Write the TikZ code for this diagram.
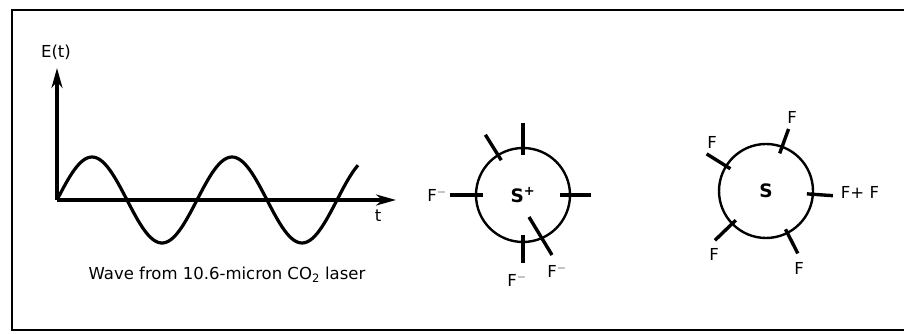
\documentclass[tikz,border=0pt]{standalone}
\usepackage{fontspec}
\setmainfont{DejaVu Sans}
\usetikzlibrary{arrows.meta,calc}

\begin{document}
\begin{tikzpicture}[x=1pt,y=1pt,
  ax/.style={line width=3.6pt},
  wave/.style={line width=3.2pt},
  ring/.style={draw,circle,line width=2.4pt,minimum size=94pt,inner sep=0pt,font=\fontsize{18.5}{21}\selectfont\bfseries},
  bond/.style={line width=3.4pt},
  lab/.style={font=\fontsize{16.5}{19}\selectfont,inner sep=1pt},
  >={Stealth[length=20pt,width=11pt]}]
\useasboundingbox (0,0) rectangle (904,334);
\draw[line width=2.8pt] (904,324) -- (12,324) -- (12,4) -- (904,4);
% field against time
\coordinate (orig) at (57,134);
\coordinate (ytop) at (57,266);
\coordinate (xend) at (396,134);
\draw[ax,->] (orig) -- (ytop);
\draw[ax,->] (orig) -- (xend);
\node[lab] (Et) at (56,282) {E(t)};
\node[lab] (tlab) at (378,118) {t};
\draw[wave] plot[domain=57:358,samples=120] (\x,{134+43*sin(2.5714*(\x-57))});
\node[lab] (cap) at (227,59) {Wave from 10.6-micron CO\textsubscript{2} laser};
% ion with its neighbours
\node[ring] (Sp) at (523,139) {S\textsuperscript{+}};
\draw[bond] ([shift={(180:40)}]Sp.center) -- ([shift={(180:73)}]Sp.center);
\draw[bond] ([shift={(122:41)}]Sp.center) -- ([shift={(122:71)}]Sp.center);
\draw[bond] ([shift={(90:40)}]Sp.center) -- ([shift={(90:72)}]Sp.center);
\draw[bond] ([shift={(0:37)}]Sp.center) -- ([shift={(0:68)}]Sp.center);
\draw[bond] ([shift={(270:40)}]Sp.center) -- ([shift={(270:68)}]Sp.center);
\draw[bond] ([shift={(6,-22)}]Sp.center) -- ([shift={(29,-60)}]Sp.center);
\node[lab] (Fl) at (437,139) {F\textsuperscript{$-$}};
\node[lab] (Fb) at (517,54) {F\textsuperscript{$-$}};
\node[lab] (Fr) at (557,63) {F\textsuperscript{$-$}};
% neutral atom
\node[ring] (S) at (766,143) {S};
\draw[bond] ([shift={(70:40)}]S.center) -- ([shift={(70:66)}]S.center);
\draw[bond] ([shift={(148:42)}]S.center) -- ([shift={(148:70)}]S.center);
\draw[bond] ([shift={(-4:41)}]S.center) -- ([shift={(-4:67)}]S.center);
\draw[bond] ([shift={(224:42)}]S.center) -- ([shift={(224:71)}]S.center);
\draw[bond] ([shift={(-63:43)}]S.center) -- ([shift={(-63:70)}]S.center);
\node[lab] (Ftr) at (792,217) {F};
\node[lab] (Ftl) at (712,192) {F};
\node[lab] (Frr) at (860,142) {F+ F};
\node[lab] (Fbl) at (714,80) {F};
\node[lab] (Fbr) at (799,66) {F};
\end{tikzpicture}
\end{document}
